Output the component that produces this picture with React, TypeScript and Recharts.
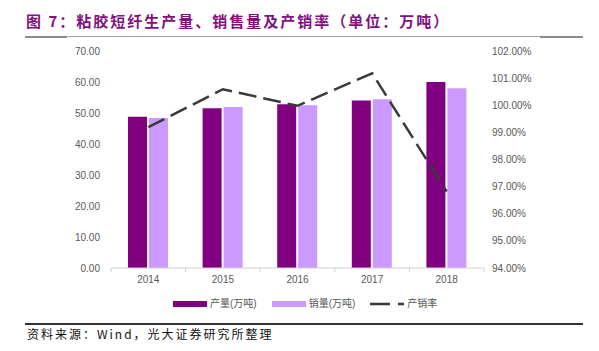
import React from 'react';
import { ComposedChart, Bar, Line, XAxis, YAxis, Legend } from 'recharts';

const years = ['2014', '2015', '2016', '2017', '2018'];
const production = [48.8, 51.5, 52.8, 54.0, 60.0];
const sales = [48.4, 51.9, 52.5, 54.4, 58.0];
const rate = [99.19, 100.59, 99.98, 101.18, 96.82];
const leftTicks = [0, 10, 20, 30, 40, 50, 60, 70];
const rightTicks = [94, 95, 96, 97, 98, 99, 100, 101, 102];

const seriesNames = ['产量(万吨)', '销量(万吨)', '产销率'];
const titleText = '图 7：粘胶短纤生产量、销售量及产销率（单位：万吨）';
const sourceText = '资料来源：Wind，光大证券研究所整理';

const data = years.map((y, i) => ({
  year: y,
  production: production[i],
  sales: sales[i],
  rate: rate[i],
}));

const DARK = '#800080';
const LIGHT = '#cc99ff';
const LINE = '#3a3a3a';
const TICK = '#595959';
const FONT = '"Liberation Sans", Arial, "Noto Sans CJK SC", sans-serif';

const XTick = (props: any) => {
  const { x, y, payload, index, width, visibleTicksCount } = props;
  const half = width / visibleTicksCount / 2;
  return (
    <g>
      <line x1={x - half} x2={x - half} y1={268} y2={272} stroke="#d0d0d0" strokeWidth={1} />
      {index === visibleTicksCount - 1 && (
        <line x1={x + half} x2={x + half} y1={268} y2={272} stroke="#d0d0d0" strokeWidth={1} />
      )}
      <text x={x} y={y} dy="0.71em" textAnchor="middle" fill={TICK} fontSize={10} fontFamily={FONT}>
        {payload.value}
      </text>
    </g>
  );
};

const renderLegend = () => (
  <div
    style={{
      display: 'flex',
      alignItems: 'center',
      fontFamily: FONT,
      fontSize: 10,
      color: TICK,
      whiteSpace: 'nowrap',
      lineHeight: '14px',
    }}
  >
    <span style={{ display: 'inline-block', width: 34, height: 6, background: DARK, marginRight: 3 }} />
    <span style={{ marginRight: 15 }}>{seriesNames[0]}</span>
    <span style={{ display: 'inline-block', width: 34, height: 6, background: LIGHT, marginRight: 3 }} />
    <span style={{ marginRight: 15 }}>{seriesNames[1]}</span>
    <svg width={34} height={6} style={{ marginRight: 3 }}>
      <line x1={0} x2={34} y1={3} y2={3} stroke={LINE} strokeWidth={2.5} strokeDasharray="20 8" />
    </svg>
    <span>{seriesNames[2]}</span>
  </div>
);

export default function App() {
  return (
    <div style={{ position: 'absolute', left: 0, top: 0, width: 599, height: 351, background: '#fff' }}>
      <div
        style={{
          position: 'absolute',
          left: 26,
          top: 11,
          fontFamily: '"Noto Sans CJK SC", sans-serif',
          fontWeight: 700,
          fontSize: 15,
          letterSpacing: 2,
          color: '#82117f',
          whiteSpace: 'nowrap',
          lineHeight: '20px',
        }}
      >
        {titleText}
      </div>
      <div style={{ position: 'absolute', left: 25, top: 36, width: 558, height: 1, background: '#a6a6a6' }} />
      <div style={{ position: 'absolute', left: 25, top: 36, width: 42, height: 2, background: '#8c8c8c' }} />
      <div style={{ position: 'absolute', left: 540, top: 36, width: 43, height: 2, background: '#8c8c8c' }} />

      <div style={{ position: 'absolute', left: 0, top: 0 }}>
        <ComposedChart
          width={599}
          height={351}
          data={data}
          margin={{ top: 51, right: 55, bottom: 53, left: 61 }}
          barSize={19}
          barGap={2}
        >
          <XAxis
            dataKey="year"
            tick={<XTick />}
            tickLine={false}
            axisLine={{ stroke: '#d0d0d0' }}
            height={30}
            interval={0}
          />
          <YAxis
            yAxisId="left"
            domain={[0, 70]}
            ticks={leftTicks}
            tickFormatter={(v: number) => v.toFixed(2)}
            tick={{ fill: TICK, fontSize: 10, fontFamily: FONT }}
            axisLine={false}
            tickLine={false}
            tickMargin={5}
            width={50}
            interval={0}
          />
          <YAxis
            yAxisId="right"
            orientation="right"
            domain={[94, 102]}
            ticks={rightTicks}
            tickFormatter={(v: number) => `${v.toFixed(2)}%`}
            tick={{ fill: TICK, fontSize: 10, fontFamily: FONT, textAnchor: 'start' }}
            axisLine={false}
            tickLine={false}
            tickMargin={2}
            width={60}
            interval={0}
          />
          <Legend
            content={renderLegend}
            layout="horizontal"
            verticalAlign="middle"
            align="center"
            wrapperStyle={{ position: 'absolute', left: 173, top: 297, width: 'auto' }}
          />
          <Bar yAxisId="left" dataKey="production" name={seriesNames[0]} fill={DARK} isAnimationActive={false} />
          <Bar yAxisId="left" dataKey="sales" name={seriesNames[1]} fill={LIGHT} isAnimationActive={false} />
          <Line
            yAxisId="right"
            dataKey="rate"
            name={seriesNames[2]}
            stroke={LINE}
            strokeWidth={2.5}
            strokeDasharray="18 7"
            dot={false}
            activeDot={false}
            type="linear"
            isAnimationActive={false}
          />
        </ComposedChart>
      </div>

      <div style={{ position: 'absolute', left: 25, top: 323, width: 558, height: 1.5, background: '#333' }} />
      <div
        style={{
          position: 'absolute',
          left: 27,
          top: 326,
          fontFamily: '"Noto Sans CJK SC", "Liberation Sans", sans-serif',
          fontSize: 12,
          letterSpacing: 2,
          color: '#111',
          whiteSpace: 'nowrap',
          lineHeight: '16px',
        }}
      >
        {sourceText}
      </div>
    </div>
  );
}
